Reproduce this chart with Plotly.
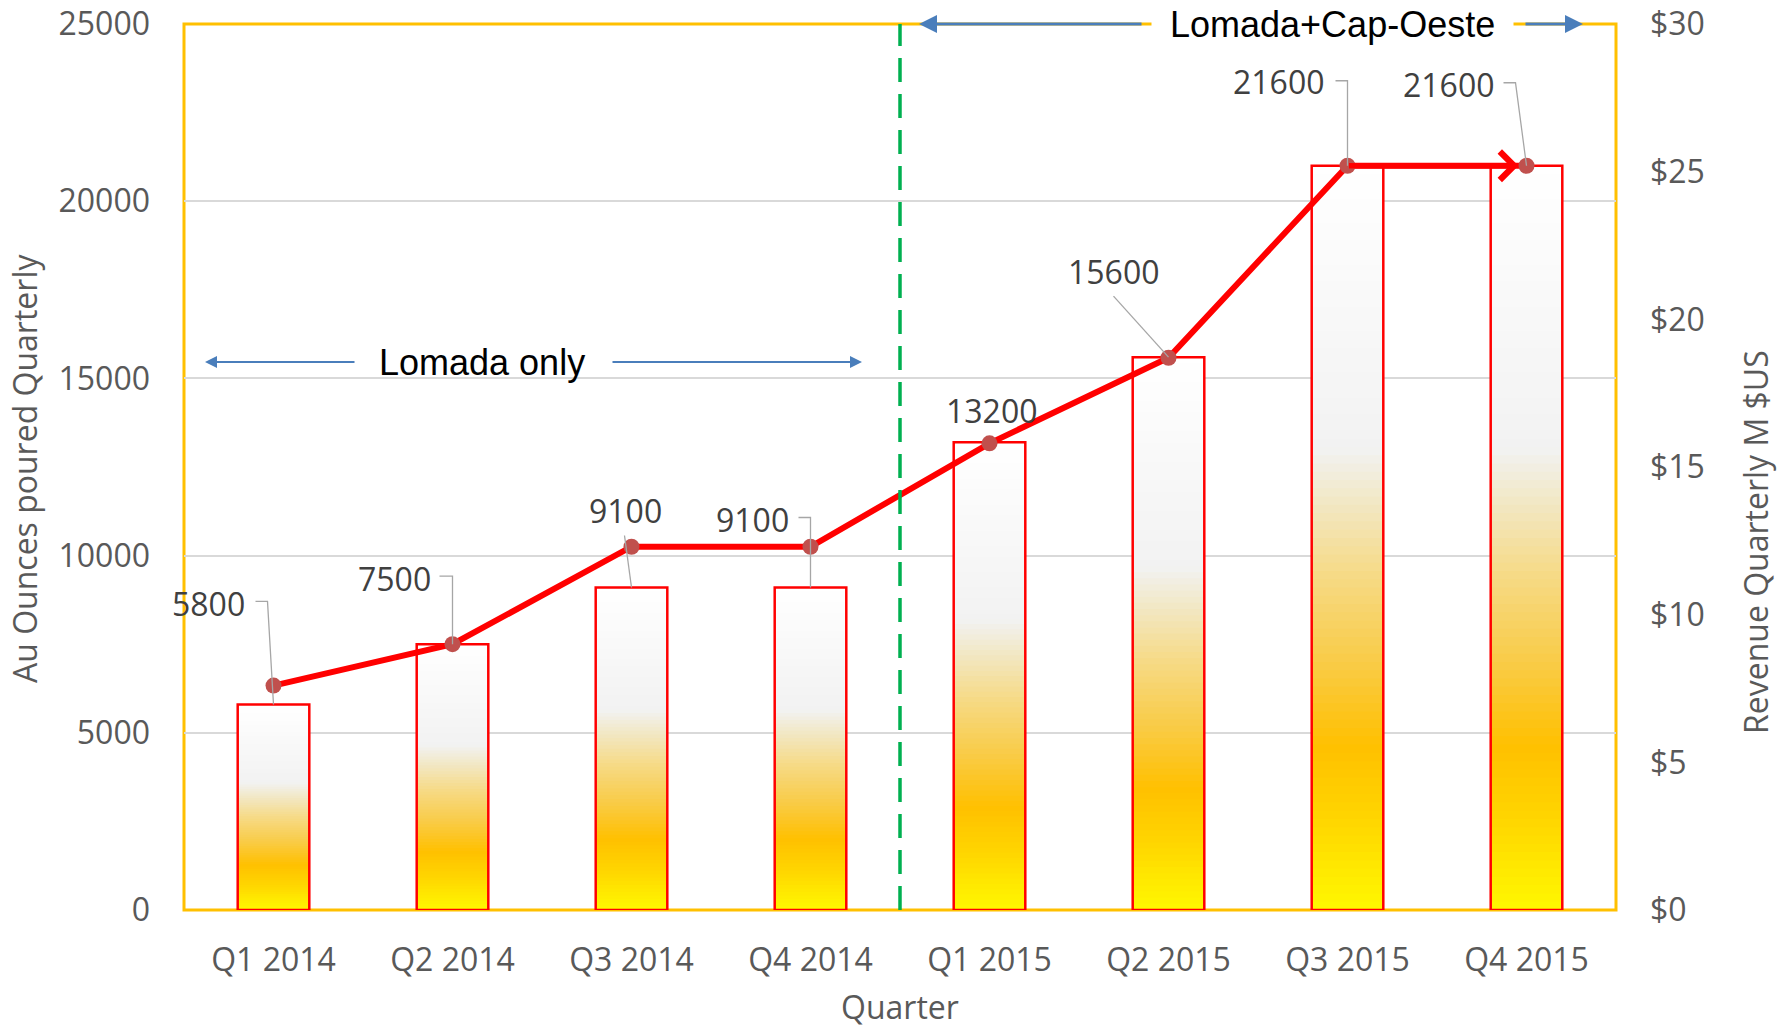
import plotly.graph_objects as go

# ---------------- data ----------------
quarters = ["Q1 2014", "Q2 2014", "Q3 2014", "Q4 2014",
            "Q1 2015", "Q2 2015", "Q3 2015", "Q4 2015"]
ounces = [5800, 7500, 9100, 9100, 13200, 15600, 21000, 21000]
ounce_labels = ["5800", "7500", "9100", "9100", "13200", "15600", "21600", "21600"]
revenue_musd = [7.6, 9.0, 12.3, 12.3, 15.8, 18.7, 25.2, 25.2]
left_ticks = [0, 5000, 10000, 15000, 20000, 25000]
right_ticks = [0, 5, 10, 15, 20, 25, 30]
right_tick_text = ["$0", "$5", "$10", "$15", "$20", "$25", "$30"]

# ---------------- style ----------------
FONT = "Open Sans"
GRAY = "#595959"
LABEL_GRAY = "#404040"
BAR_W = 0.4
# gradient stops (fraction of bar height from bottom, colour)
stops = [(0.0, "#FFF800"), (0.12, "#FFD600"), (0.22, "#FFC000"), (0.33, "#F9CB45"),
         (0.45, "#F6DA86"), (0.55, "#F2E8C6"), (0.62, "#F2F2F2"), (1.0, "#FFFFFF")]
# pixel offsets of each data label centre from its bar top (dx right, dy down)
label_offsets = [(-65, -101), (-58, -66), (-6.5, -77), (-58.5, -68),
                 (2, -32), (-55.5, -86), (-69.5, -84), (-78.5, -81)]
# leader line paths in pixels relative to bar top (y up)
leader_paths = ["M-18,103 L-6,103 L0,0", "M-13,68 L0,68 L0,0", "M-7,52 L0,0",
                "M-12,70 L0,70 L0,0", None, "M-55,61 L0,0",
                "M-12,85 L0,85 L0,0", "M-23,83 L-11,83 L0,0"]


def hex2rgb(h):
    h = h.lstrip("#")
    return tuple(int(h[i:i + 2], 16) for i in (0, 2, 4))


def grad(f):
    for (f0, c0), (f1, c1) in zip(stops[:-1], stops[1:]):
        if f0 <= f <= f1:
            t = (f - f0) / (f1 - f0)
            a, b = hex2rgb(c0), hex2rgb(c1)
            r = [round(a[i] + (b[i] - a[i]) * t) for i in range(3)]
            return "rgb(%d,%d,%d)" % tuple(r)
    return stops[-1][1]


fig = go.Figure()

# gradient-filled bars built from stacked slices
N = 90
for k in range(N):
    ext = 1.6 if k < N - 1 else 1.0
    fig.add_trace(go.Bar(
        x=quarters,
        y=[v * ext / N for v in ounces],
        base=[v * k / N for v in ounces],
        width=BAR_W,
        marker=dict(color=grad((k + 0.5) / N), line=dict(width=0)),
        hoverinfo="skip", showlegend=False,
    ))

# bar outlines
fig.add_trace(go.Bar(
    x=quarters, y=ounces, width=BAR_W,
    marker=dict(color="rgba(0,0,0,0)", line=dict(color="#FF0000", width=2.5)),
    hoverinfo="skip", showlegend=False,
))

# revenue line
fig.add_trace(go.Scatter(
    x=quarters, y=revenue_musd, yaxis="y2", mode="lines+markers",
    line=dict(color="#FF0000", width=6),
    marker=dict(color="#C0504D", size=16),
    hoverinfo="skip", showlegend=False,
))

annotations = []
shapes = []
# data labels with elbow leader lines
for i, (q, v, t) in enumerate(zip(quarters, ounces, ounce_labels)):
    dx, dy = label_offsets[i]
    annotations.append(dict(
        x=q, y=v, xref="x", yref="y", text=t, showarrow=False,
        xshift=dx, yshift=-dy, xanchor="center", yanchor="middle",
        font=dict(family=FONT, size=32, color=LABEL_GRAY),
    ))
    if leader_paths[i]:
        shapes.append(dict(
            type="path", xref="x", yref="y", xsizemode="pixel", ysizemode="pixel",
            xanchor=i, yanchor=v, path=leader_paths[i],
            line=dict(color="#A6A6A6", width=1.3), layer="above",
        ))

# arrowhead on last segment of revenue line
annotations.append(dict(
    x=7, y=revenue_musd[7], xref="x", yref="y2",
    ax=6, ay=revenue_musd[6], axref="x", ayref="y2",
    text="", showarrow=True, arrowhead=4, arrowsize=1.0, arrowwidth=5.5,
    arrowcolor="#FF0000", standoff=8,
))

BLUE = "#4A7EBB"
# "Lomada only" arrows + text
annotations += [
    dict(x=(205 - 184) / 1432, y=(910 - 362) / 886, xref="paper", yref="paper", ax=151, ay=0,
         text="", showarrow=True, arrowhead=2, arrowsize=1.2, arrowwidth=2, arrowcolor=BLUE),
    dict(x=(862 - 184) / 1432, y=(910 - 362) / 886, xref="paper", yref="paper", ax=-251, ay=0,
         text="", showarrow=True, arrowhead=2, arrowsize=1.2, arrowwidth=2, arrowcolor=BLUE),
    dict(x=(482 - 184) / 1432, y=(910 - 362) / 886, xref="paper", yref="paper",
         xanchor="center", yanchor="middle", text="Lomada only", showarrow=False,
         font=dict(family="Liberation Sans", size=36, color="#000000")),
]
# "Lomada+Cap-Oeste" arrows + text
annotations += [
    dict(x=(919 - 184) / 1432, y=1.0, xref="paper", yref="paper", ax=224, ay=0, text="",
         showarrow=True, arrowhead=2, arrowsize=1.2, arrowwidth=3, arrowcolor=BLUE),
    dict(x=(1583 - 184) / 1432, y=1.0, xref="paper", yref="paper", ax=-59, ay=0, text="",
         showarrow=True, arrowhead=2, arrowsize=1.2, arrowwidth=3, arrowcolor=BLUE),
    dict(x=(1332 - 184) / 1432, y=1.0, xref="paper", yref="paper",
         xanchor="center", yanchor="middle", text="Lomada+Cap-Oeste",
         showarrow=False, bgcolor="#FFFFFF", borderpad=18,
         font=dict(family="Liberation Sans", size=36, color="#000000")),
]
# axis titles
annotations += [
    dict(x=0, y=(910 - 469) / 886, xref="paper", yref="paper", xshift=-159, textangle=-90,
         xanchor="center", yanchor="middle",
         text="Au Ounces poured Quarterly", showarrow=False,
         font=dict(family=FONT, size=32, color=GRAY)),
    dict(x=1, y=(910 - 542) / 886, xref="paper", yref="paper", xshift=139, textangle=-90,
         xanchor="center", yanchor="middle",
         text="Revenue Quarterly M $US", showarrow=False,
         font=dict(family=FONT, size=32, color=GRAY)),
    dict(x=0.5, y=0, xref="paper", yref="paper", yshift=-96,
         xanchor="center", yanchor="middle",
         text="Quarter", showarrow=False,
         font=dict(family=FONT, size=32, color=GRAY)),
]

shapes += [
    dict(type="line", xref="x", yref="paper", x0=3.5, x1=3.5, y0=0, y1=1,
         line=dict(color="#00B050", width=3.5, dash="24px,12px"), layer="above"),
    dict(type="rect", xref="paper", yref="paper", x0=0, x1=1, y0=0, y1=1,
         line=dict(color="#FFC000", width=3), layer="between"),
]

fig.update_layout(
    width=1783, height=1030,
    margin=dict(l=184, r=167, t=24, b=120, autoexpand=False),
    paper_bgcolor="white", plot_bgcolor="white",
    barmode="overlay", showlegend=False,
    font=dict(family=FONT, size=32, color=GRAY),
    xaxis=dict(type="category", categoryorder="array", categoryarray=quarters,
               showgrid=False, showline=False, zeroline=False, automargin=False,
               tickfont=dict(family=FONT, size=32, color=GRAY),
               ticks="", ticklabelstandoff=28, range=[-0.5, 7.5]),
    yaxis=dict(range=[0, 25000], tickvals=left_ticks, tickformat="d",
               showgrid=True, gridcolor="#D9D9D9", gridwidth=1.5, automargin=False,
               zeroline=False, showline=False, ticks="", ticklabelstandoff=33,
               tickfont=dict(family=FONT, size=32, color=GRAY)),
    yaxis2=dict(range=[0, 30], tickvals=right_ticks, ticktext=right_tick_text,
                overlaying="y", side="right", showgrid=False, zeroline=False,
                showline=False, ticks="", ticklabelstandoff=33, automargin=False,
                tickfont=dict(family=FONT, size=32, color=GRAY)),
    annotations=annotations,
    shapes=shapes,
)

fig.write_html("out.html", config={"displayModeBar": False},
               post_script="document.body.style.margin='0';")
